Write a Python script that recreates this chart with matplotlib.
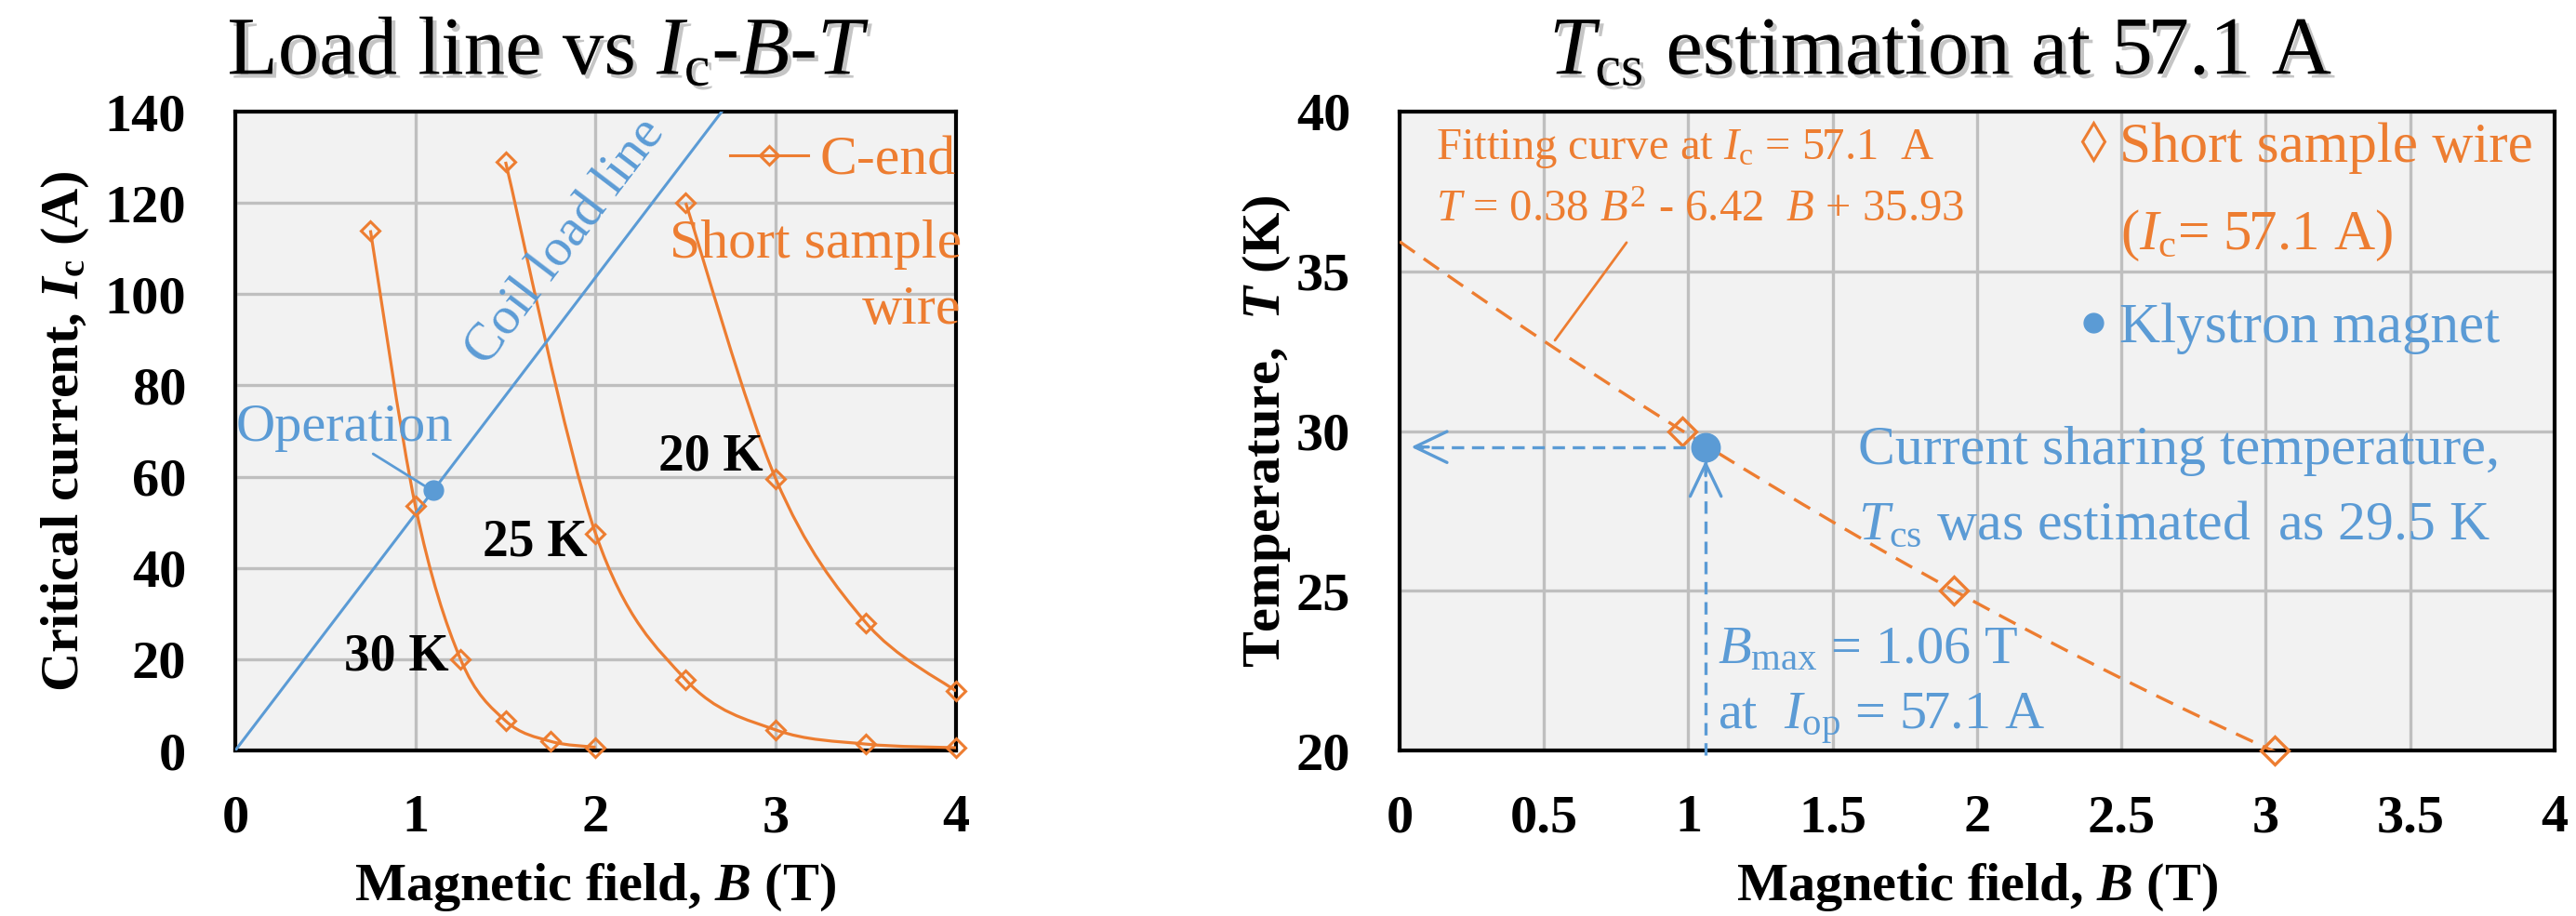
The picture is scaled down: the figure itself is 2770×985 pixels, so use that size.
import math

import numpy as np
import matplotlib
matplotlib.use("Agg")
import matplotlib.pyplot as plt
import matplotlib.patheffects as pe
from matplotlib.lines import Line2D
from matplotlib.path import Path
from matplotlib.patches import PathPatch

# --- data ------------------------------------------------------------------
# left: Ic-B curves of the short sample wire (C-end)
field_30K = [0.75, 1.0, 1.25, 1.5, 1.75, 2.0]
ic_30K = [114, 53.5, 20, 6.5, 2.0, 0.7]
field_25K = [1.5, 2.0, 2.5, 3.0, 3.5, 4.0]
ic_25K = [129, 47.5, 15.5, 4.5, 1.4, 0.6]
field_20K = [2.5, 3.0, 3.5, 4.0]
ic_20K = [120, 59.5, 28, 13]
curve_labels = ["30 K", "25 K", "20 K"]

# coil load line and operating point
load_field = [0.0, 2.70]
load_current = [0.0, 140.0]
op_field = 1.10
op_current = 57.1

# right: Tcs estimation
ssw_field = [0.98, 1.92, 3.03]
ssw_temp = [30, 25, 20]
fit_coef = [0.38, -6.42, 35.93]
fit_range = [0.0, 3.05]
klystron_field = 1.06
klystron_temp = 29.5

left_xticks = [0, 1, 2, 3, 4]
left_yticks = [0, 20, 40, 60, 80, 100, 120, 140]
right_xticks = [0, 0.5, 1, 1.5, 2, 2.5, 3, 3.5, 4]
right_xtick_labels = ["0", "0.5", "1", "1.5", "2", "2.5", "3", "3.5", "4"]
right_yticks = [20, 25, 30, 35, 40]

ORANGE = "#ED7D31"
BLUE = "#5B9BD5"
GRID = "#BFBFBF"
FACE = "#F2F2F2"

plt.rcParams["font.family"] = ["Liberation Serif", "DejaVu Serif"]
plt.rcParams["mathtext.fontset"] = "custom"
plt.rcParams["mathtext.rm"] = "Liberation Serif"
plt.rcParams["mathtext.it"] = "Liberation Serif:italic"
plt.rcParams["mathtext.bf"] = "Liberation Serif:bold"
plt.rcParams["mathtext.bfit"] = "Liberation Serif:italic:bold"
plt.rcParams["font.size"] = 42


def smooth_path(xs, ys):
    # excel-like smoothed line: catmull-rom segments as cubic beziers
    pts = np.column_stack([xs, ys]).astype(float)
    n = len(pts)
    verts = [pts[0]]
    codes = [Path.MOVETO]
    for i in range(n - 1):
        p0 = pts[max(i - 1, 0)]
        p1 = pts[i]
        p2 = pts[i + 1]
        p3 = pts[min(i + 2, n - 1)]
        verts += [p1 + (p2 - p0) / 6, p2 - (p3 - p1) / 6, p2]
        codes += [Path.CURVE4] * 3
    return Path(verts, codes)


def style_axes(ax):
    ax.set_facecolor(FACE)
    ax.set_axisbelow(True)
    ax.grid(True, color=GRID, linewidth=2.4)
    for sp in ax.spines.values():
        sp.set_color("black")
        sp.set_linewidth(3)
    ax.tick_params(length=0, labelsize=42)
    ax.tick_params(axis="x", pad=34)
    ax.tick_params(axis="y", pad=38)
    for lab in ax.get_xticklabels() + ax.get_yticklabels():
        lab.set_fontweight("bold")


fig = plt.figure(figsize=(27.7, 9.85), dpi=100)
shadow = [pe.withSimplePatchShadow(offset=(3, -3), shadow_rgbFace="#808080", alpha=0.45)]

# ---------------------------------------------------------------- left panel
ax1 = fig.add_axes([253 / 2770, 178 / 985, 775 / 2770, 687 / 985])
ax1.set_xlim(0, 4)
ax1.set_ylim(0, 140)
ax1.set_xticks(left_xticks)
ax1.set_yticks(left_yticks)
style_axes(ax1)

for fx, iy in [(field_30K, ic_30K), (field_25K, ic_25K), (field_20K, ic_20K)]:
    ax1.add_patch(PathPatch(smooth_path(fx, iy), fill=False, edgecolor=ORANGE, linewidth=2.3, zorder=3))
    ax1.plot(fx, iy, ls="none", marker="D", ms=10, mfc="none", mec=ORANGE, mew=2.2, zorder=4, clip_on=False)

ax1.plot(load_field, load_current, color=BLUE, linewidth=2.2, zorder=3)
ax1.plot([op_field], [op_current], "o", ms=15, color=BLUE, zorder=5)

# coil load line label along the line
p0 = ax1.transData.transform((load_field[0], load_current[0]))
p1 = ax1.transData.transform((load_field[1], load_current[1]))
angle = math.degrees(math.atan2(p1[1] - p0[1], p1[0] - p0[0]))
ax1.text(1.83, 111.5, "Coil load line", color=BLUE, fontsize=42, rotation=angle,
         rotation_mode="anchor", ha="center", va="center")

ax1.text(0.003, 67.9, "Operation", color=BLUE, fontsize=42, va="baseline")
ax1.annotate("", xy=(1.05, 58), xytext=(0.765, 65),
             arrowprops=dict(arrowstyle="-", color=BLUE, lw=2, shrinkA=0, shrinkB=0))

for lab, (tx, ty) in zip(curve_labels, [(0.605, 17.7), (1.375, 42.6), (2.35, 61.5)]):
    ax1.text(tx, ty, lab, fontsize=40, fontweight="bold", va="baseline")

handle = Line2D([], [], color=ORANGE, lw=2.2, marker="D", ms=10, mfc="none", mec=ORANGE, mew=2.2)
ax1.legend([handle], ["C-end"], loc="upper right", bbox_to_anchor=(1.0, 0.962), frameon=False,
           fontsize=43, labelcolor=ORANGE, borderpad=0, borderaxespad=0,
           handlelength=1.4, handletextpad=0.22)
ax1.text(4.03, 108.0, "Short sample", color=ORANGE, fontsize=43, ha="right", va="baseline")
ax1.text(4.03, 93.5, "wire", color=ORANGE, fontsize=43, ha="right", va="baseline")

ax1.set_xlabel(r"Magnetic field, $\mathbfit{B}$ (T)", fontsize=42, fontweight="bold")
ax1.xaxis.set_label_coords(0.5, -0.234)
ax1.xaxis.label.set_va("baseline")
ax1.set_ylabel(r"Critical current, $\mathbfit{I}_\mathbf{c}$ (A)", fontsize=42, fontweight="bold")
ax1.yaxis.set_label_coords(-0.236, 0.5)
ax1.yaxis.label.set_va("center")
ax1.yaxis.label.set_ha("center")

fig.text(590 / 2770, 1 - 80 / 985, r"Load line vs $I_\mathrm{c}$-$B$-$T$", fontsize=64,
         ha="center", va="baseline", path_effects=shadow)

# --------------------------------------------------------------- right panel
ax2 = fig.add_axes([1505 / 2770, 178 / 985, 1242 / 2770, 687 / 985])
ax2.set_xlim(0, 4)
ax2.set_ylim(20, 40)
ax2.set_xticks(right_xticks)
ax2.set_xticklabels(right_xtick_labels)
ax2.set_yticks(right_yticks)
style_axes(ax2)

bb = np.linspace(fit_range[0], fit_range[1], 200)
ax2.plot(bb, np.polyval(fit_coef, bb), color=ORANGE, lw=2.4, ls=(0, (6, 3.5)), zorder=3)
ax2.plot(ssw_field, ssw_temp, ls="none", marker="D", ms=15, mfc="none", mec=ORANGE, mew=2.4,
         zorder=4, clip_on=False)

# dashed guide arrows from the klystron point
ax2.plot([klystron_field, 0.06], [klystron_temp, klystron_temp], color=BLUE, lw=2.4,
         ls=(0, (4, 2.5)), zorder=4)
ax2.plot([klystron_field, klystron_field], [19.85, 29.05], color=BLUE, lw=2.4,
         ls=(0, (4, 2.5)), zorder=4, clip_on=False)
head = "->,head_length=1.25,head_width=0.6"
ax2.annotate("", xy=(0.04, klystron_temp), xytext=(0.10, klystron_temp),
             arrowprops=dict(arrowstyle=head, color=BLUE, lw=2.4, shrinkA=0, shrinkB=0,
                             mutation_scale=20))
ax2.annotate("", xy=(klystron_field, 29.08), xytext=(klystron_field, 28.6),
             arrowprops=dict(arrowstyle=head, color=BLUE, lw=2.4, shrinkA=0, shrinkB=0,
                             mutation_scale=20))
ax2.plot([klystron_field], [klystron_temp], "o", ms=22, color=BLUE, zorder=5)

fit_text = "$T$ = {:.2f} $B^2$ - {:.2f}  $B$ + {:.2f}".format(fit_coef[0], -fit_coef[1], fit_coef[2])
ax2.text(0.126, 38.52, r"Fitting curve at $I_\mathrm{c}$ = 57.1  A", color=ORANGE, fontsize=35,
         va="baseline")
ax2.text(0.126, 36.56, fit_text, color=ORANGE, fontsize=35, va="baseline")
ax2.annotate("", xy=(0.538, 32.84), xytext=(0.786, 35.9),
             arrowprops=dict(arrowstyle="-", color=ORANGE, lw=2, shrinkA=0, shrinkB=0))

handles = [
    Line2D([], [], ls="none", marker="d", ms=20, mfc="none", mec=ORANGE, mew=2.2),
    Line2D([], [], ls="none", marker="o", ms=15, color=BLUE),
]
ax2.legend(handles, ["Short sample wire", "Klystron magnet"], loc="upper left",
           bbox_to_anchor=(0.586, 0.984), frameon=False, fontsize=44, labelcolor=[ORANGE, BLUE],
           borderpad=0, borderaxespad=0, handlelength=0.6, handletextpad=0.16, labelspacing=2.27)
ax2.text(2.496, 35.69, r"($I_\mathrm{c}$= 57.1 A)", color=ORANGE, fontsize=44, va="baseline")

ax2.text(1.588, 28.97, "Current sharing temperature,", color=BLUE, fontsize=43, va="baseline")
ax2.text(1.588, 26.61, r"$T_\mathrm{cs}$ was estimated  as 29.5 K", color=BLUE, fontsize=43,
         va="baseline")
ax2.text(1.101, 22.74, r"$B_\mathrm{max}$ = 1.06 T", color=BLUE, fontsize=42, va="baseline")
ax2.text(1.101, 20.67, r"at  $I_\mathrm{op}$ = 57.1 A", color=BLUE, fontsize=42, va="baseline")

ax2.set_xlabel(r"Magnetic field, $\mathbfit{B}$ (T)", fontsize=42, fontweight="bold")
ax2.xaxis.set_label_coords(0.5, -0.234)
ax2.xaxis.label.set_va("baseline")
ax2.set_ylabel(r"Temperature,  $\mathbfit{T}$ (K)", fontsize=42, fontweight="bold")
ax2.yaxis.set_label_coords(-0.115, 0.5)
ax2.yaxis.label.set_va("center")
ax2.yaxis.label.set_ha("center")

fig.text(2087 / 2770, 1 - 80 / 985, r"$T_\mathrm{cs}$ estimation at 57.1 A", fontsize=64,
         ha="center", va="baseline", path_effects=shadow)

fig.savefig("out.png", dpi=100)
